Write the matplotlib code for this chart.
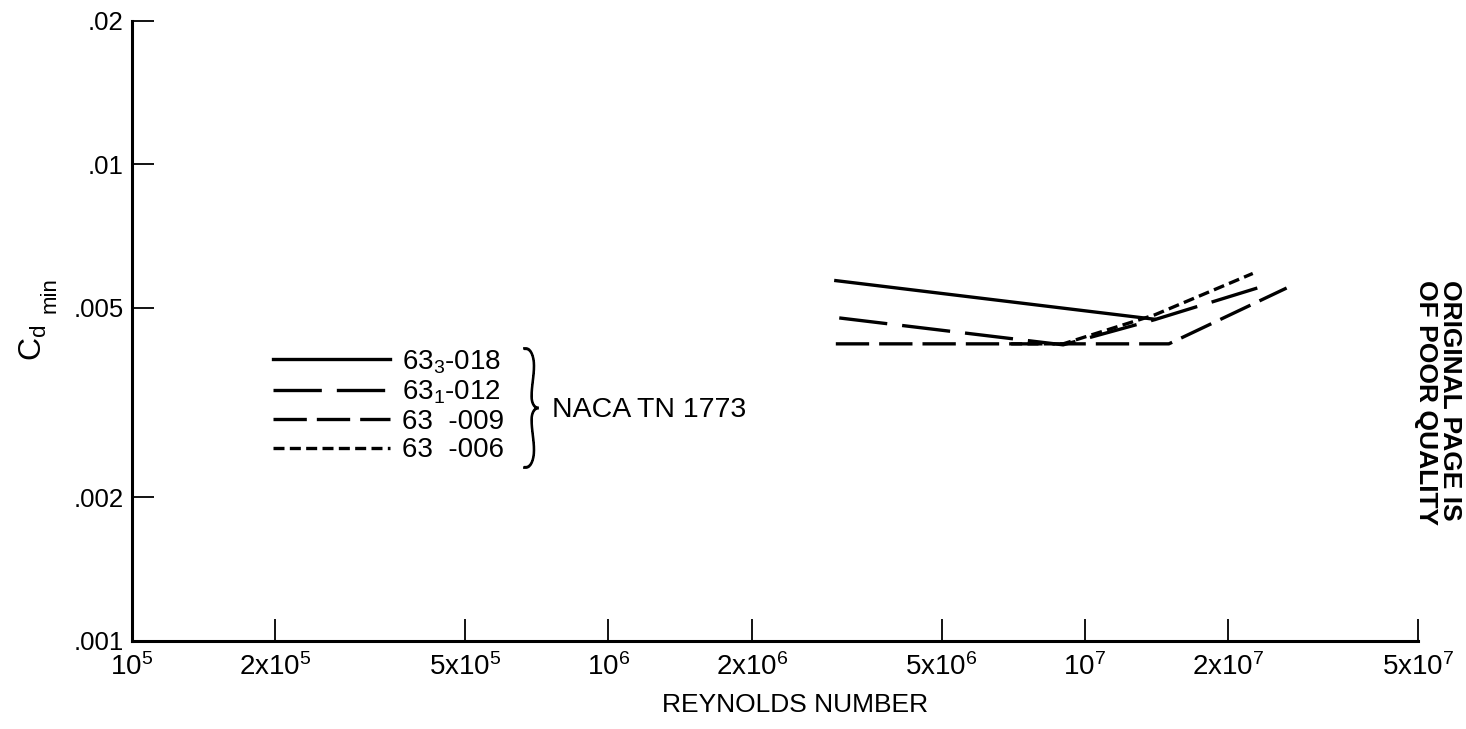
import matplotlib
matplotlib.use('Agg')
import matplotlib.pyplot as plt
from matplotlib.ticker import FixedLocator, NullLocator
from matplotlib.textpath import TextPath
from matplotlib.font_manager import FontProperties
from matplotlib.patches import PathPatch
from matplotlib.transforms import Affine2D

plt.rcParams['font.family'] = ['Liberation Sans', 'DejaVu Sans']

# minimum drag coefficient vs Reynolds number (NACA TN 1773)
re_018 = [3.0e6, 1.4e7]
cd_018 = [0.0057, 0.00473]

re_012 = [3.05e6, 9.0e6, 1.4e7, 2.3e7]
cd_012 = [0.00476, 0.00418, 0.00472, 0.0055]

re_009 = [3.0e6, 1.5e7, 2.65e7]
cd_009 = [0.0042, 0.0042, 0.0055]

re_006 = [7.0e6, 9.0e6, 1.4e7, 2.25e7]
cd_006 = [0.0042, 0.0042, 0.00483, 0.0059]

labels = [r'$\mathregular{63_3}$-018', r'$\mathregular{63_1}$-012', '63  -009', '63  -006']

x_ticks = [1e5, 2e5, 5e5, 1e6, 2e6, 5e6, 1e7, 2e7, 5e7]
x_tick_labels = [r'$\mathregular{10^5}$', r'$\mathregular{2x10^5}$', r'$\mathregular{5x10^5}$',
                 r'$\mathregular{10^6}$', r'$\mathregular{2x10^6}$', r'$\mathregular{5x10^6}$',
                 r'$\mathregular{10^7}$', r'$\mathregular{2x10^7}$', r'$\mathregular{5x10^7}$']
y_ticks = [0.001, 0.002, 0.005, 0.01, 0.02]
y_tick_labels = ['.001', '.002', '.005', '.01', '.02']

W, H = 1466, 729
fig = plt.figure(figsize=(W / 100, H / 100), dpi=100)
ax = fig.add_axes([132 / W, 1 - 641 / H, 1286 / W, (641 - 20.7) / H])

lw = 2.4
ax.plot(re_018, cd_018, color='black', lw=lw, linestyle='-', label=labels[0])
ax.plot(re_012, cd_012, color='black', lw=lw, linestyle=(0, (14.5, 4.5)), label=labels[1])
ax.plot(re_009, cd_009, color='black', lw=lw, linestyle=(0, (10, 3)), label=labels[2])
ax.plot(re_006, cd_006, color='black', lw=lw, linestyle=(0, (3.3, 1.6)), label=labels[3])

ax.set_xscale('log')
ax.set_yscale('log')
ax.set_xlim(1e5, 5e7)
ax.set_ylim(0.001, 0.02)
ax.xaxis.set_major_locator(FixedLocator(x_ticks))
ax.xaxis.set_minor_locator(NullLocator())
ax.set_xticklabels(x_tick_labels)
ax.yaxis.set_major_locator(FixedLocator(y_ticks))
ax.yaxis.set_minor_locator(NullLocator())
ax.set_yticklabels(y_tick_labels)

ax.spines['top'].set_visible(False)
ax.spines['right'].set_visible(False)
ax.spines['left'].set_linewidth(2.2)
ax.spines['bottom'].set_linewidth(2.2)
ax.tick_params(direction='in', length=16, width=1.3)
ax.tick_params(axis='x', pad=9, labelsize=20)
ax.tick_params(axis='y', pad=6, labelsize=18.5)

ax.set_xlabel('REYNOLDS NUMBER', fontsize=19)
ax.xaxis.set_label_coords((795 - 132) / 1286, -(705 - 641) / 620.3)
ax.xaxis.label.set_va('center')

# y label: C with subscript d, then "min" a little lower
fig.text(33 / W, 1 - 343 / H, r'$\mathregular{C_d}$', rotation=90,
         ha='center', va='center', fontsize=23)
fig.text(50 / W, 1 - 295 / H, 'min', rotation=90, ha='center', va='center', fontsize=16)

ax.legend(loc='upper left', bbox_to_anchor=((273 - 132) / 1286, (641 - 348) / 620.3),
          frameon=False, fontsize=20, handlelength=4.2, handletextpad=0.43,
          labelspacing=0.1, borderpad=0, borderaxespad=0)

# curly brace, squeezed to the narrow shape of the original
brace = TextPath((0, 0), '}', size=100, prop=FontProperties(family='Lato', weight='light'))
ext = brace.get_extents()
bx0, bx1, by0, by1 = 524, 538, 348, 468
tr = (Affine2D().translate(-ext.x0, -ext.y0)
      .scale((bx1 - bx0) / ext.width, (by1 - by0) / ext.height)
      .translate(bx0, H - by1))
fig.add_artist(PathPatch(brace, transform=tr, facecolor='black', edgecolor='black', lw=1.3))

ax.text((552 - 132) / 1286, (641 - 410) / 620.3, 'NACA TN 1773', transform=ax.transAxes,
        fontsize=20.5, ha='left', va='center')

# scanner stamp on the right edge
fig.text(1438 / W, 1 - 280 / H, 'ORIGINAL PAGE IS\nOF POOR QUALITY', rotation=-90,
         ha='center', va='top', multialignment='left', linespacing=1.0,
         fontsize=19, fontweight='bold')

fig.savefig('out.png', dpi=100)
